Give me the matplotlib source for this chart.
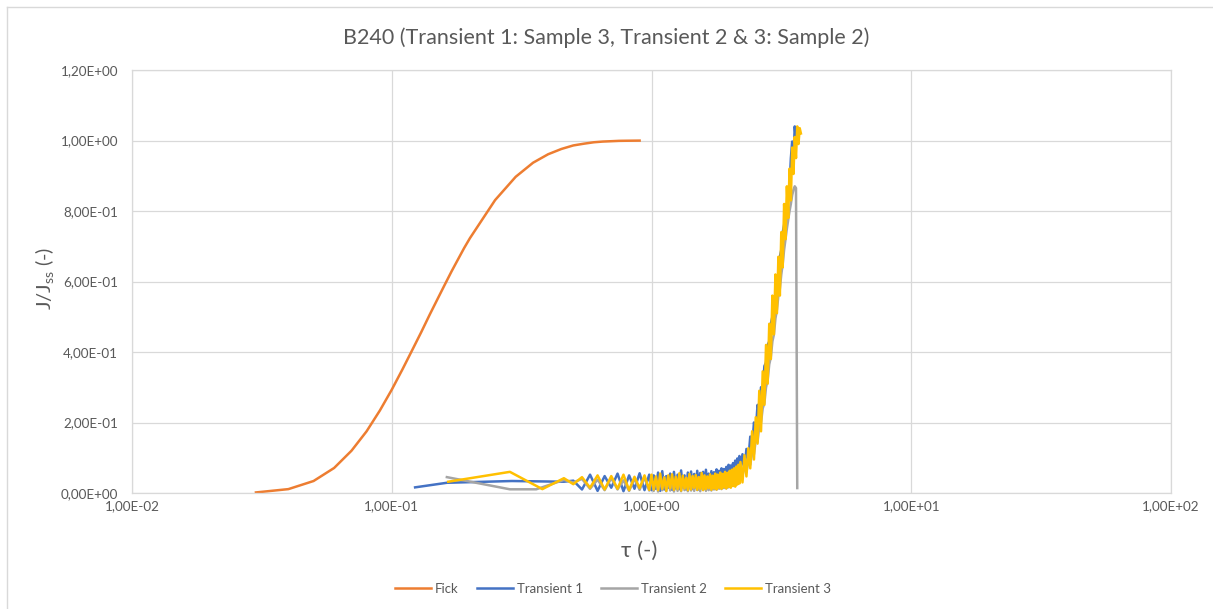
import matplotlib
matplotlib.use("Agg")
import matplotlib.pyplot as plt
from matplotlib.lines import Line2D
from matplotlib.ticker import FuncFormatter, FixedLocator

plt.rcParams["font.family"] = ["Lato", "DejaVu Sans"]
plt.rcParams["mathtext.fontset"] = "custom"
plt.rcParams["mathtext.rm"] = "Lato"
plt.rcParams["mathtext.it"] = "Lato:italic"

# Fick solution
tau_fick = [0.03, 0.04, 0.05, 0.06, 0.07, 0.08, 0.09, 0.10, 0.11, 0.12, 0.13, 0.14,
            0.15, 0.16, 0.17, 0.18, 0.19, 0.20, 0.25, 0.30, 0.35, 0.40, 0.45, 0.50,
            0.55, 0.60, 0.65, 0.70, 0.75, 0.80, 0.85, 0.90]
j_fick = [0.0016, 0.011, 0.034, 0.071, 0.120, 0.175, 0.234, 0.293, 0.351, 0.406, 0.457, 0.506,
          0.550, 0.591, 0.629, 0.663, 0.695, 0.723, 0.831, 0.897, 0.937, 0.961, 0.976, 0.986,
          0.991, 0.995, 0.997, 0.998, 0.999, 0.9993, 0.9995, 0.9997]

# shared sampling times of the measured transients
tau_a = [0.50, 0.54, 0.58, 0.62, 0.66, 0.70, 0.74, 0.78, 0.82, 0.86, 0.90, 0.94, 0.98]
tau_b = [1.00, 1.02, 1.04, 1.06, 1.08, 1.10, 1.12, 1.14, 1.16, 1.18,
         1.20, 1.22, 1.24, 1.26, 1.28, 1.30, 1.32, 1.34, 1.36, 1.38,
         1.40, 1.42, 1.44, 1.46, 1.48, 1.50, 1.52, 1.54, 1.56, 1.58,
         1.60, 1.62, 1.64, 1.66, 1.68, 1.70, 1.72, 1.74, 1.76, 1.78,
         1.80, 1.82, 1.84, 1.86, 1.88, 1.90, 1.92, 1.94, 1.96, 1.98,
         2.00, 2.02, 2.04, 2.06, 2.08, 2.10, 2.12, 2.14, 2.16, 2.18, 2.20]
tau_c = [2.24, 2.28, 2.32, 2.36, 2.40, 2.44, 2.48, 2.52, 2.56, 2.60,
         2.64, 2.68, 2.72, 2.76, 2.80, 2.84, 2.88, 2.92, 2.96, 3.00,
         3.04, 3.08, 3.12, 3.16, 3.20, 3.24, 3.28, 3.32, 3.36, 3.40,
         3.44, 3.48, 3.52, 3.56, 3.60, 3.64, 3.68, 3.72, 3.76]

# Transient 1 (sample 3)
t1_tau0 = [0.123, 0.163, 0.29, 0.46]
t1_j0 = [0.016, 0.029, 0.034, 0.032]
t1_ja = [0.035, 0.010, 0.052, 0.006, 0.048, 0.015, 0.055, 0.005, 0.050, 0.012, 0.056, 0.008, 0.052]
t1_jb = [0.008, 0.050, 0.012, 0.058, 0.006, 0.062, 0.010, 0.048, 0.015, 0.055,
         0.009, 0.060, 0.013, 0.052, 0.011, 0.064, 0.016, 0.050, 0.010, 0.058,
         0.014, 0.061, 0.012, 0.054, 0.017, 0.063, 0.010, 0.057, 0.015, 0.060,
         0.013, 0.066, 0.018, 0.055, 0.012, 0.062, 0.016, 0.059, 0.020, 0.067,
         0.017, 0.063, 0.022, 0.070, 0.019, 0.068, 0.025, 0.074, 0.028, 0.080,
         0.030, 0.078, 0.035, 0.085, 0.040, 0.092, 0.045, 0.098, 0.050, 0.105, 0.060]
t1_jc = [0.110, 0.070, 0.125, 0.095, 0.160, 0.130, 0.200, 0.175, 0.250, 0.230,
         0.300, 0.290, 0.360, 0.370, 0.420, 0.430, 0.480, 0.500, 0.550, 0.560,
         0.610, 0.620, 0.670, 0.690, 0.740, 0.760, 0.800, 0.810, 0.850, 0.870,
         0.950, 0.997, 0.945, 1.040, 1.000, 1.025]

# Transient 2 (sample 2)
t2_tau0 = [0.163, 0.285, 0.36, 0.46]
t2_j0 = [0.045, 0.0105, 0.0105, 0.037]
t2_ja = [0.030, 0.040, 0.012, 0.038, 0.008, 0.042, 0.010, 0.036, 0.006, 0.040, 0.009, 0.044, 0.007]
t2_jb = [0.040, 0.006, 0.042, 0.004, 0.038, 0.008, 0.045, 0.005, 0.040, 0.007,
         0.043, 0.004, 0.039, 0.006, 0.046, 0.005, 0.041, 0.008, 0.044, 0.005,
         0.040, 0.007, 0.047, 0.006, 0.042, 0.008, 0.045, 0.005, 0.041, 0.009,
         0.046, 0.006, 0.043, 0.008, 0.048, 0.007, 0.044, 0.010, 0.049, 0.009,
         0.046, 0.012, 0.051, 0.011, 0.049, 0.014, 0.054, 0.013, 0.056, 0.016,
         0.058, 0.018, 0.060, 0.020, 0.063, 0.024, 0.066, 0.028, 0.070, 0.032, 0.074]
t2_jc = [0.050, 0.075, 0.060, 0.090, 0.080, 0.115, 0.110, 0.150, 0.145, 0.190,
         0.200, 0.240, 0.255, 0.300, 0.320, 0.365, 0.385, 0.430, 0.450, 0.495,
         0.520, 0.560, 0.580, 0.620, 0.650, 0.690, 0.720, 0.750, 0.775, 0.800,
         0.820, 0.845, 0.860, 0.870, 0.865, 0.014]

# Transient 3 (sample 2)
t3_tau0 = [0.165, 0.285, 0.38, 0.46]
t3_j0 = [0.032, 0.060, 0.011, 0.042]
t3_ja = [0.025, 0.045, 0.015, 0.050, 0.010, 0.048, 0.012, 0.052, 0.008, 0.046, 0.014, 0.050, 0.009]
t3_jb = [0.052, 0.010, 0.047, 0.008, 0.055, 0.012, 0.044, 0.006, 0.050, 0.014,
         0.053, 0.009, 0.046, 0.011, 0.056, 0.007, 0.049, 0.013, 0.043, 0.008,
         0.054, 0.010, 0.048, 0.015, 0.051, 0.009, 0.045, 0.012, 0.057, 0.008,
         0.050, 0.011, 0.047, 0.014, 0.053, 0.009, 0.049, 0.013, 0.055, 0.010,
         0.052, 0.015, 0.058, 0.012, 0.054, 0.016, 0.060, 0.013, 0.057, 0.018,
         0.063, 0.015, 0.066, 0.020, 0.070, 0.018, 0.075, 0.024, 0.080, 0.027, 0.088]
t3_jc = [0.030, 0.107, 0.047, 0.127, 0.070, 0.175, 0.095, 0.215, 0.140, 0.290,
         0.175, 0.345, 0.250, 0.420, 0.310, 0.480, 0.380, 0.560, 0.450, 0.620,
         0.510, 0.670, 0.560, 0.740, 0.640, 0.820, 0.720, 0.870, 0.780, 0.920,
         0.830, 0.980, 0.905, 1.010, 0.950, 1.040, 0.990, 1.035, 1.020]

x_ticks = [0.01, 0.1, 1, 10, 100]
y_ticks = [0.0, 0.2, 0.4, 0.6, 0.8, 1.0, 1.2]

t1_tau = t1_tau0 + tau_a + tau_b + tau_c[:len(t1_jc)]
t1_j = t1_j0 + t1_ja + t1_jb + t1_jc
t2_tau = t2_tau0 + tau_a + tau_b + tau_c[:len(t2_jc)]
t2_j = t2_j0 + t2_ja + t2_jb + t2_jc
t3_tau = t3_tau0 + tau_a + tau_b + tau_c[:len(t3_jc)]
t3_j = t3_j0 + t3_ja + t3_jb + t3_jc

W, H = 1213, 609
fig = plt.figure(figsize=(W / 100, H / 100), dpi=100)
ax = fig.add_axes([132 / W, 1 - 493 / H, 1039 / W, 423 / H])

grid_c = "#d9d9d9"
text_c = "#595959"
lw = 1.8
ax.plot(tau_fick, j_fick, color="#ED7D31", lw=lw, label="Fick")
ax.plot(t1_tau, t1_j, color="#4472C4", lw=lw, label="Transient 1")
ax.plot(t2_tau, t2_j, color="#A5A5A5", lw=lw, label="Transient 2")
ax.plot(t3_tau, t3_j, color="#FFC000", lw=lw, label="Transient 3")

ax.set_xscale("log")
ax.set_xlim(0.01, 100)
ax.set_ylim(0, 1.2)
ax.xaxis.set_major_locator(FixedLocator(x_ticks))
ax.xaxis.set_minor_locator(FixedLocator([]))
ax.yaxis.set_major_locator(FixedLocator(y_ticks))
fmt = FuncFormatter(lambda v, p: f"{v:.2E}".replace(".", ","))
ax.xaxis.set_major_formatter(fmt)
ax.yaxis.set_major_formatter(fmt)
ax.tick_params(length=0, labelsize=9.7, colors=text_c)
ax.tick_params(axis="x", pad=5)
ax.tick_params(axis="y", pad=10)
ax.grid(True, color=grid_c, lw=0.9)
ax.set_axisbelow(True)
for s in ax.spines.values():
    s.set_color(grid_c)
    s.set_linewidth(0.9)

ax.set_xlabel("τ (-)", fontsize=16, color=text_c)
ax.xaxis.set_label_coords((639 - 132) / 1039, -(551 - 493) / 423)
ax.xaxis.label.set_va("center")
ax.set_ylabel(r"J/J$_{\mathrm{ss}}$ (-)", fontsize=14.5, color=text_c)
ax.yaxis.set_label_coords(-(132 - 44) / 1039, (493 - 278) / 423)
ax.yaxis.label.set_va("center")

fig.text(606 / W, 1 - 38 / H, "B240 (Transient 1: Sample 3, Transient 2 & 3: Sample 2)",
         ha="center", va="center", fontsize=15.5, color=text_c)

fig.legend(loc="center", bbox_to_anchor=(613 / W, 1 - 589 / H), ncol=4, frameon=False,
           fontsize=9.5, handlelength=2.7, handletextpad=0.3, columnspacing=1.4,
           labelcolor=text_c)

# chart area outline
fig.add_artist(Line2D([7 / W, 7 / W], [0, 1 - 7 / H], color=grid_c, lw=1))
fig.add_artist(Line2D([7 / W, 1], [1 - 7 / H, 1 - 7 / H], color=grid_c, lw=1))

fig.savefig("out.png", dpi=100)
